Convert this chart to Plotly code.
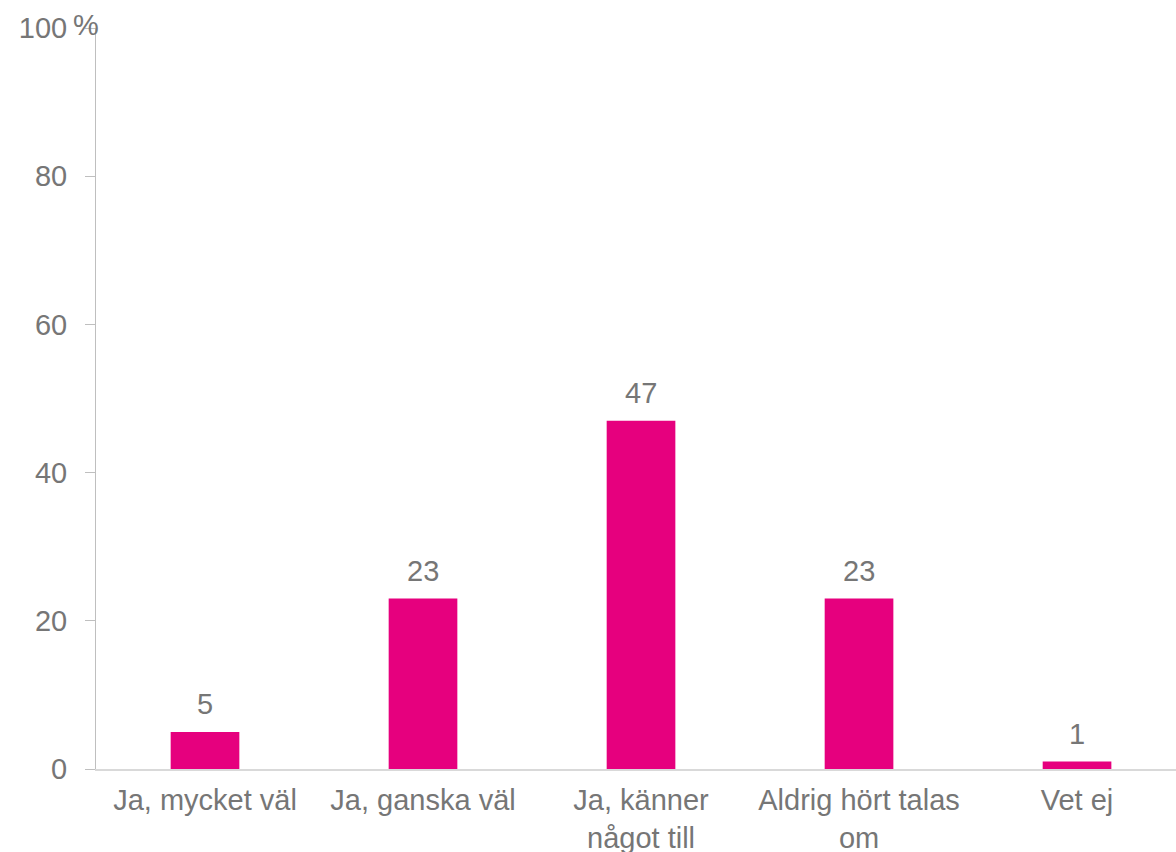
import plotly.graph_objects as go

categories = ["Ja, mycket väl", "Ja, ganska väl", "Ja, känner<br>något till", "Aldrig hört talas<br>om", "Vet ej"]
values = [5, 23, 47, 23, 1]
y_ticks = [0, 20, 40, 60, 80, 100]

gray = "#767676"
fnt = dict(family="Liberation Sans, Arial, sans-serif", size=29, color=gray)

fig = go.Figure(go.Bar(
    x=categories, y=values, marker=dict(color="#E6007E", line=dict(width=0)),
    cliponaxis=False, hoverinfo="x+y",
))
for c, v in zip(categories, values):
    fig.add_annotation(x=c, y=v, text=str(v), showarrow=False, yanchor="bottom",
                       yshift=10, font=fnt)
fig.update_layout(
    width=1176, height=852, margin=dict(l=96, r=0, t=28, b=83),
    paper_bgcolor="white", plot_bgcolor="white", bargap=0.685,
    font=fnt, showlegend=False,
)
fig.update_xaxes(showline=True, linecolor="#D9D9D9", linewidth=2, showgrid=False,
                 tickfont=fnt, ticks="", ticklabelstandoff=4, automargin=False,
                 range=[-0.5, 4.454])
fig.update_yaxes(range=[0, 100], tickvals=y_ticks, showgrid=False, zeroline=False,
                 showline=True, linecolor="#BFBFBF", linewidth=1, tickfont=fnt,
                 ticks="outside", ticklen=10, tickcolor="#BFBFBF", tickwidth=1,
                 ticklabelstandoff=12, automargin=False)
fig.add_annotation(text="%", xref="paper", yref="y", x=0, y=100, xanchor="center",
                   yanchor="middle", showarrow=False, font=fnt, xshift=-10, yshift=3)
fig.write_html("out.html", post_script="document.body.style.margin='0';",
               config={"displayModeBar": False})
